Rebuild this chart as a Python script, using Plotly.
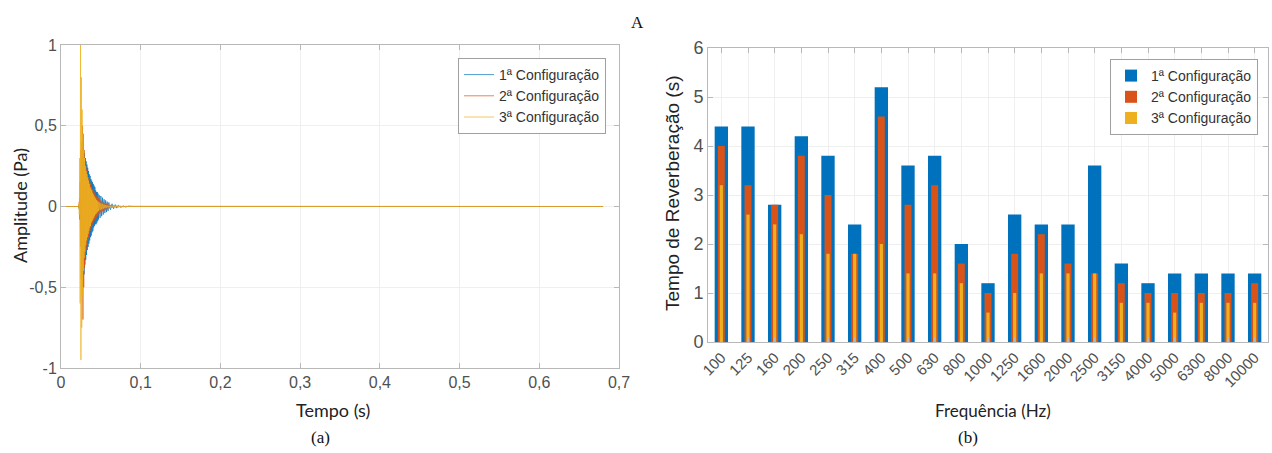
import plotly.graph_objects as go

# ---------------- (a) impulse responses ----------------
tempo = [0.000,
         0.0220, 0.0225, 0.0230, 0.0235, 0.0240, 0.0245, 0.0250, 0.0255, 0.0260, 0.0265,
         0.0270, 0.0275, 0.0280, 0.0285, 0.0290, 0.0295, 0.0300, 0.0305, 0.0310, 0.0315,
         0.0320, 0.0325, 0.0330, 0.0335, 0.0340, 0.0345, 0.0350, 0.0355, 0.0360, 0.0365,
         0.0370, 0.0375, 0.0380, 0.0385, 0.0390, 0.0395, 0.0400, 0.0405, 0.0410, 0.0415,
         0.0420, 0.0425, 0.0430, 0.0435, 0.0440, 0.0445, 0.0450, 0.0455, 0.0460, 0.0465,
         0.0470, 0.0480, 0.0490, 0.0500, 0.0510, 0.0520, 0.0530, 0.0540, 0.0550, 0.0560,
         0.0570, 0.0580, 0.0590, 0.0600, 0.0620, 0.0640, 0.0660, 0.0680, 0.0700, 0.0720,
         0.0750, 0.0780, 0.0810, 0.0850, 0.0900, 0.6800]

amp_cfg1 = [0,
            0, 0.01, -0.02, 0.05, -0.08, 0.12, -0.15, 0.20, -0.25, 0.28,
            -0.32, 0.30, -0.38, 0.35, -0.42, 0.33, -0.36, 0.30, -0.33, 0.28,
            -0.30, 0.26, -0.27, 0.24, -0.25, 0.22, -0.23, 0.20, -0.21, 0.19,
            -0.19, 0.17, -0.18, 0.16, -0.16, 0.15, -0.15, 0.14, -0.13, 0.13,
            -0.12, 0.12, -0.11, 0.10, -0.11, 0.09, -0.10, 0.09, -0.09, 0.08,
            -0.08, 0.07, -0.07, 0.065, -0.06, 0.055, -0.05, 0.045, -0.04, 0.038,
            -0.035, 0.03, -0.028, 0.025, -0.02, 0.017, -0.014, 0.012, -0.01, 0.008,
            -0.006, 0.004, -0.003, 0.002, 0.001, 0]

amp_cfg2 = [0,
            0, -0.01, 0.03, -0.08, 0.15, -0.25, 0.35, -0.45, 0.40, -0.55,
            0.50, -0.70, 0.45, -0.50, 0.35, -0.38, 0.30, -0.30, 0.26, -0.27,
            0.23, -0.24, 0.20, -0.21, 0.18, -0.19, 0.16, -0.17, 0.15, -0.15,
            0.14, -0.13, 0.12, -0.12, 0.11, -0.11, 0.10, -0.10, 0.09, -0.09,
            0.085, -0.08, 0.075, -0.075, 0.07, -0.065, 0.06, -0.06, 0.055, -0.05,
            0.05, -0.045, 0.04, -0.038, 0.035, -0.03, 0.028, -0.025, 0.022, -0.02,
            0.018, -0.016, 0.014, -0.012, 0.01, -0.008, 0.006, -0.005, 0.004, -0.003,
            0.002, -0.002, 0.001, 0, 0, 0]

amp_cfg3 = [0,
            0, 0.02, -0.05, 0.30, -0.60, 1.00, -0.95, 0.80, -0.75, 0.60,
            -0.55, 0.45, -0.40, 0.35, -0.32, 0.30, -0.28, 0.25, -0.24, 0.22,
            -0.21, 0.20, -0.19, 0.18, -0.17, 0.16, -0.15, 0.14, -0.13, 0.12,
            -0.12, 0.11, -0.10, 0.10, -0.09, 0.085, -0.08, 0.075, -0.07, 0.065,
            -0.06, 0.055, -0.05, 0.05, -0.045, 0.04, -0.038, 0.035, -0.032, 0.03,
            -0.028, 0.025, -0.022, 0.02, -0.018, 0.016, -0.014, 0.012, -0.01, 0.009,
            -0.008, 0.007, -0.006, 0.005, -0.004, 0.003, -0.002, 0.002, -0.001, 0.001,
            0, 0, 0, 0, 0, 0]

# ---------------- (b) reverberation time ----------------
frequencias = ["100", "125", "160", "200", "250", "315", "400", "500", "630", "800",
               "1000", "1250", "1600", "2000", "2500", "3150", "4000", "5000", "6300",
               "8000", "10000"]
tr_cfg1 = [4.4, 4.4, 2.8, 4.2, 3.8, 2.4, 5.2, 3.6, 3.8, 2.0, 1.2, 2.6, 2.4, 2.4, 3.6,
           1.6, 1.2, 1.4, 1.4, 1.4, 1.4]
tr_cfg2 = [4.0, 3.2, 2.8, 3.8, 3.0, 1.8, 4.6, 2.8, 3.2, 1.6, 1.0, 1.8, 2.2, 1.6, 1.4,
           1.2, 1.0, 1.0, 1.0, 1.0, 1.2]
tr_cfg3 = [3.2, 2.6, 2.4, 2.2, 1.8, 1.8, 2.0, 1.4, 1.4, 1.2, 0.6, 1.0, 1.4, 1.4, 1.4,
           0.8, 0.8, 0.6, 0.8, 0.8, 0.8]

names = ["1ª Configuração", "2ª Configuração", "3ª Configuração"]
colors = ["#0072BD", "#D95319", "#EDB120"]

W, H = 1272, 453
def px(x0, x1):
    return [x0 / W, x1 / W]
def py(top, bottom):
    return [(H - bottom) / H, (H - top) / H]
def ax(x):
    return x / W
def ay(y):
    return (H - y) / H

fig = go.Figure()

for amp, nm, c in zip([amp_cfg1, amp_cfg2, amp_cfg3], names, colors):
    fig.add_trace(go.Scatter(x=tempo, y=amp, mode="lines", name=nm,
                             line=dict(color=c, width=0.7),
                             xaxis="x", yaxis="y", legend="legend"))

for vals, nm, c, w in zip([tr_cfg1, tr_cfg2, tr_cfg3], names, colors, [0.5, 0.26, 0.12]):
    fig.add_trace(go.Bar(x=frequencias, y=vals, name=nm, marker=dict(color=c, line=dict(width=0)),
                         width=w, xaxis="x2", yaxis="y2", legend="legend2"))

sans = "Liberation Sans, Arial, sans-serif"
tick_font = dict(family=sans, size=16, color="#505050")
calib = "Lato, Open Sans, sans-serif"
serif = "Liberation Serif, Times New Roman, serif"
axcol = "#b8b8b8"
gridcol = "#efefef"

common = dict(showline=True, linecolor=axcol, linewidth=1, mirror="allticks",
              ticks="inside", ticklen=5, tickcolor=axcol, showgrid=True,
              gridcolor=gridcol, zeroline=False, automargin=False)

def label(text, x, y, font, angle=0):
    return dict(text=text, x=ax(x), y=ay(y), xref="paper", yref="paper",
                xanchor="center", yanchor="middle", textangle=angle,
                showarrow=False, font=font)

fig.update_layout(
    width=W, height=H, margin=dict(l=0, r=0, t=0, b=0, autoexpand=False),
    paper_bgcolor="white", plot_bgcolor="white",
    separators=",.",
    barmode="overlay",
    showlegend=True,
    xaxis=dict(domain=px(61, 619), range=[0, 0.7],
               tickvals=[0, 0.1, 0.2, 0.3, 0.4, 0.5, 0.6, 0.7],
               ticktext=["0", "0,1", "0,2", "0,3", "0,4", "0,5", "0,6", "0,7"],
               tickfont=tick_font, anchor="y", **common),
    yaxis=dict(domain=py(45, 368), range=[-1, 1],
               tickvals=[-1, -0.5, 0, 0.5, 1],
               ticktext=["-1", "-0,5", "0", "0,5", "1"],
               tickfont=tick_font, anchor="x", **common),
    xaxis2=dict(domain=px(708, 1268), range=[-0.5, 20.5], type="category",
                tickangle=-45, tickfont=dict(family=sans, size=15, color="#505050"),
                anchor="y2", **common),
    yaxis2=dict(domain=py(48, 342), range=[0, 6], dtick=1,
                tickfont=dict(family=sans, size=18, color="#505050"),
                anchor="x2", **common),
    legend=dict(x=ax(606), y=ay(58), xanchor="right", yanchor="top",
                bgcolor="white", bordercolor="#a0a0a0", borderwidth=1,
                font=dict(family=sans, size=14, color="#333333"),
                tracegroupgap=0),
    legend2=dict(x=ax(1258), y=ay(59), xanchor="right", yanchor="top",
                 bgcolor="white", bordercolor="#a0a0a0", borderwidth=1,
                 font=dict(family=sans, size=14, color="#333333"),
                 tracegroupgap=0),
    annotations=[
        label("Tempo (s)", 333, 410, dict(family=calib, size=18, color="#222")),
        label("Frequência (Hz)", 993, 410, dict(family=calib, size=17, color="#222")),
        label("Amplitude (Pa)", 20, 206, dict(family=calib, size=18, color="#222"), -90),
        label("Tempo de Reverberação (s)", 673, 193, dict(family=sans, size=19, color="#222"), -90),
        label("(a)", 320, 437, dict(family=serif, size=17, color="#111")),
        label("(b)", 968, 437, dict(family=serif, size=17, color="#111")),
        label("A", 637, 22, dict(family=serif, size=17, color="#111")),
    ],
)

fig.write_html("out.html", config={"displayModeBar": False},
               post_script="document.body.style.margin='0';document.body.style.padding='0';")
